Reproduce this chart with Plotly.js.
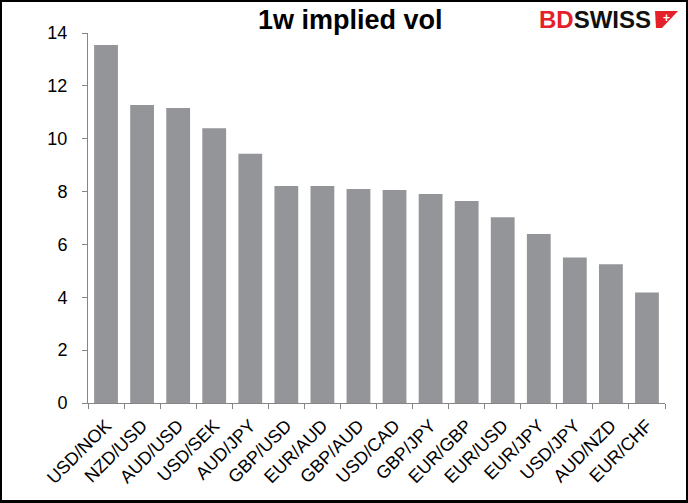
<!DOCTYPE html>
<html>
<head>
<meta charset="utf-8">
<script src="https://cdn.plot.ly/plotly-3.0.1.min.js"></script>
<style>
html,body{margin:0;padding:0;background:#fff;}
#chart{width:688px;height:503px;box-sizing:border-box;border:2px solid #000;border-bottom-width:3px;}
</style>
</head>
<body>
<div id="chart"></div>
<script>
const pairs = ["USD/NOK","NZD/USD","AUD/USD","USD/SEK","AUD/JPY","GBP/USD","EUR/AUD","GBP/AUD","USD/CAD","GBP/JPY","EUR/GBP","EUR/USD","EUR/JPY","USD/JPY","AUD/NZD","EUR/CHF"];
const vols = [13.55,11.28,11.16,10.40,9.43,8.21,8.21,8.10,8.06,7.91,7.64,7.03,6.39,5.51,5.25,4.18];
const yTicks = [0,2,4,6,8,10,12,14];

const W = 684, H = 498; // inner size after border
const ml = 86, mr = 21, mt = 31, mb = 97;
const pw = W - ml - mr, ph = H - mt - mb;
function px(x){ return (x - 2 - ml) / pw; }
function py(y){ return (H - mb - (y - 2)) / ph; }

const trace = {
  type: 'bar', x: pairs, y: vols,
  marker: {color: '#939598'},
  hoverinfo: 'x+y'
};

const layout = {
  width: W, height: H,
  margin: {l: ml, r: mr, t: mt, b: mb},
  paper_bgcolor: '#fff', plot_bgcolor: '#fff',
  bargap: 0.34,
  showlegend: false,
  font: {family: 'Liberation Sans, Arial, sans-serif', color: '#000', size: 18},
  xaxis: {
    type: 'category',
    showline: true, linecolor: '#868686', linewidth: 1,
    ticks: 'outside', ticklen: 5, tickcolor: '#868686', tickson: 'boundaries',
    tickangle: -45, tickfont: {size: 18, color: '#000'}, ticklabelstandoff: 4,
    showgrid: false, zeroline: false, fixedrange: true
  },
  yaxis: {
    range: [0, 14], tickvals: yTicks, ticktext: yTicks.map(String),
    showline: true, linecolor: '#868686', linewidth: 1,
    ticks: 'outside', ticklen: 5, tickcolor: '#868686',
    tickfont: {size: 18, color: '#000'}, ticklabelstandoff: 11,
    showgrid: false, zeroline: false, fixedrange: true
  },
  annotations: [{
    xref: 'paper', yref: 'paper',
    x: px(350), y: py(20), xanchor: 'center', yanchor: 'middle',
    text: '<b>1w implied vol</b>', showarrow: false,
    font: {size: 27, color: '#000', family: 'Liberation Sans, Arial, sans-serif'}
  },{
    xref: 'paper', yref: 'paper',
    x: px(653), y: py(20), xanchor: 'right', yanchor: 'middle',
    text: '<b><span style="color:#e4202b">BD</span>SWISS</b>',
    showarrow: false,
    font: {size: 24, color: '#111', family: 'Liberation Sans, Arial, sans-serif'}
  },{
    xref: 'paper', yref: 'paper',
    x: px(666), y: py(17.5), xanchor: 'center', yanchor: 'middle',
    text: '<b>+</b>', showarrow: false,
    font: {size: 12, color: '#fff', family: 'Liberation Sans, Arial, sans-serif'}
  }],
  shapes: [{
    type: 'path', xref: 'paper', yref: 'paper',
    path: 'M ' + px(655) + ' ' + py(11) + ' L ' + px(678) + ' ' + py(11) +
          ' L ' + px(662) + ' ' + py(28) + ' L ' + px(656) + ' ' + py(28) + ' Z',
    fillcolor: '#e4202b', line: {width: 0}
  }]
};

Plotly.newPlot('chart', [trace], layout, {displayModeBar: false, staticPlot: true});
</script>
</body>
</html>
